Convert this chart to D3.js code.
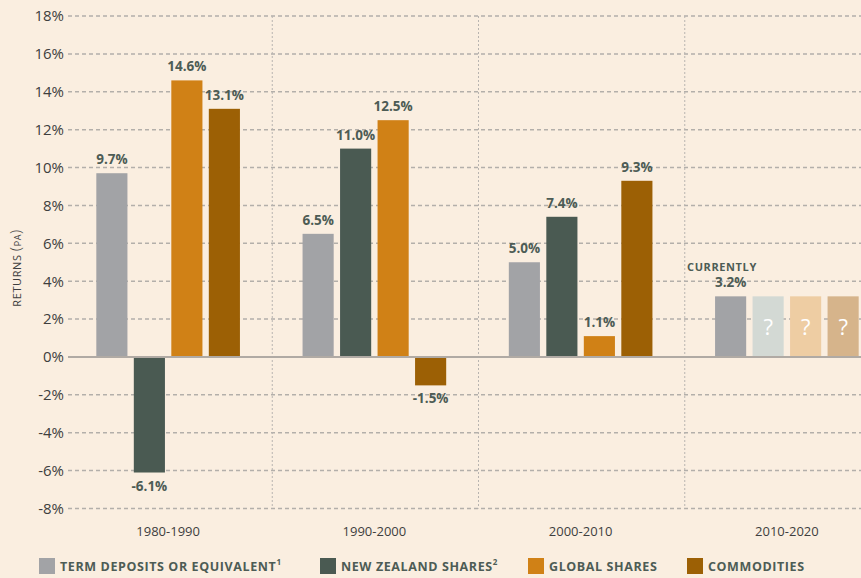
<!DOCTYPE html>
<html>
<head>
<meta charset="utf-8">
<script src="https://cdn.jsdelivr.net/npm/d3@7"></script>
<style>
  body { margin: 0; background: #faeee0; }
  svg { display: block; font-family: "Open Sans", sans-serif; }
</style>
</head>
<body>
<svg id="chart" width="861" height="578"></svg>
<script>
// data
const decades = ['1980-1990', '1990-2000', '2000-2010', '2010-2020'];
const seriesNames = ['TERM DEPOSITS OR EQUIVALENT', 'NEW ZEALAND SHARES', 'GLOBAL SHARES', 'COMMODITIES'];
const seriesNotes = ['1', '2', '', ''];
const termDeposits = [9.7, 6.5, 5.0, 3.2];
const nzShares = [-6.1, 11.0, 7.4, null];
const globalShares = [14.6, 12.5, 1.1, null];
const commodities = [13.1, -1.5, 9.3, null];
const yTicks = [-8, -6, -4, -2, 0, 2, 4, 6, 8, 10, 12, 14, 16, 18];
const currentRate = 3.2; // unknown future returns shown at today's rate

const colors = ['#a2a3a6', '#4a5a52', '#d08116', '#9c6005'];
const unknownColors = ['#a2a3a6', '#d3d9d4', '#eecda3', '#d6b48b'];
const textColor = '#4d5c55';

const svg = d3.select('#chart');
const width = +svg.attr('width');

const series = [termDeposits, nzShares, globalShares, commodities];
const rows = [];
decades.forEach((d, i) => {
    series.forEach((s, j) => {
        rows.push({ decade: d, key: j, value: s[i], unknown: s[i] === null });
    });
});

const x = d3.scaleBand().domain(decades).range([65, 890]);
const xs = d3.scaleBand().domain(d3.range(4))
    .range([x.bandwidth() / 2 - 75, x.bandwidth() / 2 + 75])
    .paddingInner(0.17).paddingOuter(0.085);
const y = d3.scaleLinear().domain([-8, 18]).range([508.5, 16]);
const pct = v => d3.format('.1f')(v).replace('\u2212', '-') + '%';

// gridlines
svg.append('g')
    .selectAll('line')
    .data(yTicks.filter(t => t !== 0))
    .enter().append('line')
    .attr('x1', 68).attr('x2', width)
    .attr('y1', d => y(d)).attr('y2', d => y(d))
    .attr('stroke', '#b3afaa')
    .attr('stroke-width', 1.5)
    .attr('stroke-dasharray', '4,3');

// decade separators
svg.append('g')
    .selectAll('line')
    .data(decades.slice(1))
    .enter().append('line')
    .attr('x1', d => x(d) + 1).attr('x2', d => x(d) + 1)
    .attr('y1', y(18)).attr('y2', y(-8))
    .attr('stroke', '#b8b4b0')
    .attr('stroke-width', 1)
    .attr('stroke-dasharray', '2,2');

// y axis
const yAxis = svg.append('g')
    .attr('transform', 'translate(64,0)')
    .call(d3.axisLeft(y).tickValues(yTicks).tickFormat(d => d + '%').tickSize(0).tickPadding(0));
yAxis.select('.domain').remove();
yAxis.selectAll('text')
    .attr('font-size', 15)
    .attr('fill', '#3e3e3e')
    .attr('font-family', '"Open Sans", sans-serif');

// y label
const yl = svg.append('text')
    .attr('transform', 'translate(21,268) rotate(-90)')
    .attr('text-anchor', 'middle')
    .attr('fill', '#3e3e3e')
    .attr('font-size', 11)
    .attr('letter-spacing', 0.6);
yl.append('tspan').text('RETURNS ');
yl.append('tspan').attr('font-size', 15).attr('font-weight', 300).text('(');
yl.append('tspan').attr('font-size', 9).text('PA');
yl.append('tspan').attr('font-size', 15).attr('font-weight', 300).text(')');

// bars
const bars = svg.append('g')
    .selectAll('g')
    .data(rows)
    .enter().append('g')
    .attr('transform', d => 'translate(' + (x(d.decade) + xs(d.key)) + ',0)');

bars.append('rect')
    .attr('width', xs.bandwidth())
    .attr('y', d => y(Math.max(0, d.unknown ? currentRate : d.value)))
    .attr('height', d => Math.abs(y(d.unknown ? currentRate : d.value) - y(0)))
    .attr('fill', d => d.unknown ? unknownColors[d.key] : colors[d.key]);

bars.append('text')
    .attr('x', xs.bandwidth() / 2)
    .attr('y', d => d.unknown ? y(currentRate / 2) + 8
        : d.value >= 0 ? y(d.value) - 9 : y(d.value) + 18)
    .attr('text-anchor', 'middle')
    .attr('font-size', d => d.unknown ? 22 : 13.5)
    .attr('font-weight', d => d.unknown ? 400 : 700)
    .attr('fill', d => d.unknown ? '#ffffff' : textColor)
    .text(d => d.unknown ? '?' : pct(d.value));

// "currently" note
svg.append('text')
    .attr('x', x(decades[3]) + xs(0) - 28)
    .attr('y', y(currentRate) - 25)
    .attr('font-size', 11)
    .attr('font-weight', 700)
    .attr('letter-spacing', 0.6)
    .attr('fill', textColor)
    .text('CURRENTLY');

// zero line
svg.append('line')
    .attr('x1', 68).attr('x2', width)
    .attr('y1', y(0)).attr('y2', y(0))
    .attr('stroke', '#b0aaa4')
    .attr('stroke-width', 2);

// x labels
svg.append('g')
    .selectAll('text')
    .data(decades)
    .enter().append('text')
    .attr('x', d => x(d) + x.bandwidth() / 2)
    .attr('y', 536)
    .attr('text-anchor', 'middle')
    .attr('font-size', 13)
    .attr('fill', '#3e3e3e')
    .text(d => d);

// legend
const legendX = [39, 320, 528, 687];
const legend = svg.append('g')
    .selectAll('g')
    .data(seriesNames)
    .enter().append('g')
    .attr('transform', (d, i) => 'translate(' + legendX[i] + ',558)');

legend.append('rect')
    .attr('width', 16).attr('height', 16)
    .attr('fill', (d, i) => colors[i]);

const lt = legend.append('text')
    .attr('x', 21).attr('y', 13)
    .attr('font-size', 12.5)
    .attr('font-weight', 700)
    .attr('letter-spacing', 0.6)
    .attr('fill', textColor);
lt.append('tspan').text(d => d);
lt.append('tspan')
    .attr('dy', -6)
    .attr('font-size', 8)
    .text((d, i) => seriesNotes[i]);
</script>
</body>
</html>
